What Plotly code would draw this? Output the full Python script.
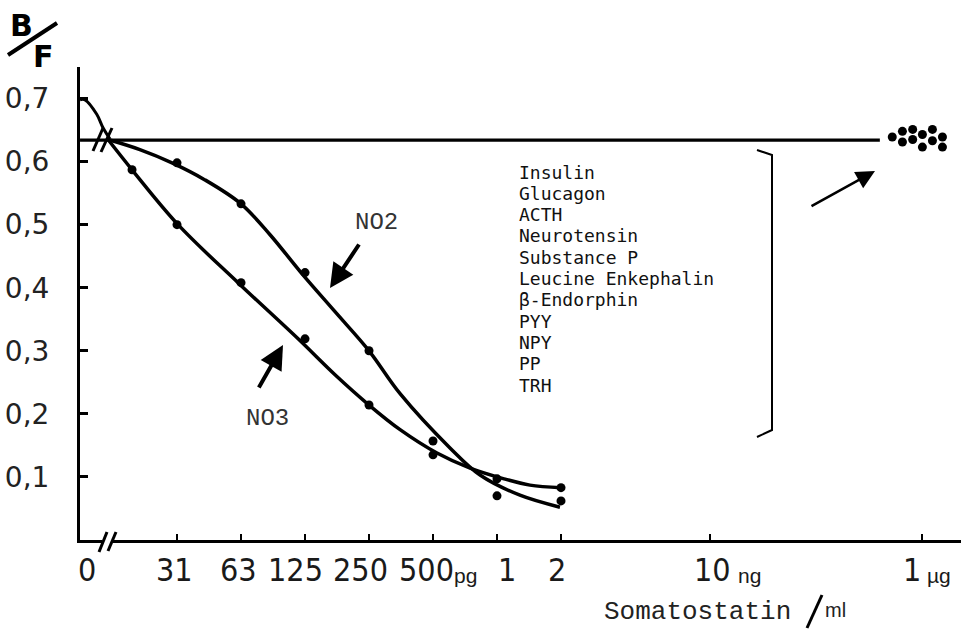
import math
import plotly.graph_objects as go

# ---------------- data ----------------
# somatostatin dose in pg/ml, B/F ratio
no2_dose = [31.25, 62.5, 125, 250, 500, 1000, 2000]
no2_bf = [0.598, 0.533, 0.424, 0.300, 0.157, 0.070, 0.062]

no3_dose = [19.2, 31.25, 62.5, 125, 250, 500, 1000, 2000]
no3_bf = [0.587, 0.500, 0.408, 0.319, 0.214, 0.135, 0.097, 0.083]

# hand-drawn fitted curves
no2_fit_dose = [14.8, 20.9, 29.6, 42.3, 62.5, 85.6, 119.7, 173, 250, 350, 601, 832, 1282, 1977]
no2_fit_bf = [0.635, 0.619, 0.598, 0.571, 0.533, 0.484, 0.424, 0.362, 0.300, 0.232, 0.146, 0.103, 0.071, 0.052]
no3_fit_dose = [14.8, 19.2, 31.6, 60.5, 116, 173, 250, 350, 522, 747, 1079, 1429, 2000]
no3_fit_bf = [0.635, 0.587, 0.500, 0.408, 0.319, 0.262, 0.214, 0.175, 0.138, 0.114, 0.097, 0.087, 0.083]

# zero-dose segment (plotted at the broken start of the axis)
zero_dose_pos = [10.93, 11.53, 13.1, 14.0, 15.1]
zero_dose_bf = [0.698, 0.698, 0.675, 0.654, 0.636]

# baseline B/F (no displacement)
baseline_dose = [10.93, 63200]
baseline_bf = [0.634, 0.634]

# other peptides at 1 ug/ml (plotted at broken-axis position)
peptides = ["Insulin", "Glucagon", "ACTH", "Neurotensin", "Substance P",
            "Leucine Enkephalin", "\u03b2-Endorphin", "PYY", "NPY", "PP", "TRH"]
cluster_dose = [72300, 80700, 80700, 90200, 90200, 100200, 100200, 111700, 111700, 124500, 124500]
cluster_bf = [0.639, 0.648, 0.631, 0.651, 0.635, 0.643, 0.623, 0.651, 0.633, 0.639, 0.623]

# axis ticks
x_tick_pos = [31.25, 62.5, 125, 250, 500, 1000, 2000, 10000, 100000]
x_label_pos = [10.93, 31.25, 62.5, 125, 250, 500, 1000, 2000, 10000, 100000]
x_label_num = ["0", "31", "63", "125", "250", "500", "1", "2", "10", "1"]
x_label_unit = ["", "", "", "", "", "pg", "", "", "ng", "\u00b5g"]
y_tick_vals = [0.1, 0.2, 0.3, 0.4, 0.5, 0.6, 0.7]
y_tick_text = ["0,1", "0,2", "0,3", "0,4", "0,5", "0,6", "0,7"]

# ---------------- layout helpers ----------------
W, H = 961, 629
ML, MR, MT, MB = 80, 0, 67, 89
PW, PH = W - ML - MR, H - MT - MB
XLOG0, XLOG1 = 1.0385, 1.0385 + PW / 212.6


def P(px, py):
    return (px - ML) / PW, (H - MB - py) / PH


fig = go.Figure()
LW = 3.5
fig.add_trace(go.Scatter(x=baseline_dose, y=baseline_bf, mode="lines",
                         line=dict(color="black", width=3.2), hoverinfo="skip"))
fig.add_trace(go.Scatter(x=zero_dose_pos, y=zero_dose_bf, mode="lines",
                         line=dict(color="black", width=3, shape="spline"), hoverinfo="skip"))
fig.add_trace(go.Scatter(x=no2_fit_dose, y=no2_fit_bf, mode="lines",
                         line=dict(color="black", width=LW, shape="spline", smoothing=1.0)))
fig.add_trace(go.Scatter(x=no3_fit_dose, y=no3_fit_bf, mode="lines",
                         line=dict(color="black", width=LW, shape="spline", smoothing=1.0)))
fig.add_trace(go.Scatter(x=no2_dose, y=no2_bf, mode="markers",
                         marker=dict(color="black", size=9)))
fig.add_trace(go.Scatter(x=no3_dose, y=no3_bf, mode="markers",
                         marker=dict(color="black", size=9)))
fig.add_trace(go.Scatter(x=cluster_dose, y=cluster_bf, mode="markers",
                         marker=dict(color="black", size=9)))

shapes = []


def seg(p0, p1, width=3, color="black"):
    x0, y0 = P(*p0)
    x1, y1 = P(*p1)
    shapes.append(dict(type="line", xref="paper", yref="paper", x0=x0, y0=y0, x1=x1, y1=y1,
                       line=dict(color=color, width=width), layer="above"))


# axis break on x axis
seg((102, 541), (113, 541), width=7, color="white")
seg((99, 552), (107, 532), width=3)
seg((108, 551), (116, 532), width=3)
# break marks on baseline
seg((93, 151), (103, 128), width=3)
seg((101, 152), (112, 128), width=3)
# B/F slash
seg((8, 55), (57, 23), width=4)
# Somatostatin / ml slash
seg((807, 628), (822, 595), width=3)
# bracket
pts = [P(757, 150), P(772, 155), P(772, 430), P(757, 437)]
path = "M {} {} L {} {} L {} {} L {} {}".format(*[v for p in pts for v in p])
shapes.append(dict(type="path", xref="paper", yref="paper", path=path,
                   line=dict(color="black", width=2)))

annotations = []


def text(px, py, s, size, family, xanchor="center", color="#1a1a1a", yanchor="middle"):
    x, y = P(px, py)
    annotations.append(dict(x=x, y=y, xref="paper", yref="paper", text=s, showarrow=False,
                            xanchor=xanchor, yanchor=yanchor,
                            font=dict(size=size, family=family, color=color)))


def arrow(head, tail, width=4, size=1.2):
    x, y = P(*head)
    annotations.append(dict(x=x, y=y, xref="paper", yref="paper", text="", showarrow=True,
                            ax=tail[0] - head[0], ay=tail[1] - head[1],
                            arrowhead=2, arrowsize=size, arrowwidth=width, arrowcolor="black"))


NARROW = "Liberation Sans Narrow, DejaVu Sans Condensed, Arial Narrow, sans-serif"
MONO = "Liberation Mono, Courier New, monospace"

# B / F
text(21, 25, "<b>B</b>", 30, "DejaVu Sans", color="black")
text(43, 57, "<b>F</b>", 30, "DejaVu Sans", color="black")

# curve labels and arrows
text(376, 223, "NO2", 24, MONO, color="#333")
text(267, 418, "NO3", 24, MONO, color="#333")
arrow((330, 288), (360, 243))
arrow((283, 345), (258, 389))
arrow((875, 171), (810, 207), width=2.5, size=1.5)

# peptide list
for i, name in enumerate(peptides):
    text(517, 172 + i * 21.3, name, 18, "DejaVu Sans Mono", xanchor="left", color="#111")

# x labels
num_centers = [87, 174, 238, 295, 360, 426, 507, 557, 712, 912]
unit_left = [None, None, None, None, None, 452, None, None, 736, 925]
for pos, num, unit, cx, ul in zip(x_label_pos, x_label_num, x_label_unit, num_centers, unit_left):
    text(cx, 570, num, 32, NARROW, color="#1a1a1a")
    if unit:
        text(ul, 575, unit, 21, "Liberation Sans, sans-serif", xanchor="left", color="#1a1a1a")

# axis title
text(602, 612, "Somatostatin", 26, MONO, xanchor="left", color="#222")
text(823, 610, "ml", 20, "Liberation Sans, sans-serif", xanchor="left", color="#222")

fig.update_layout(
    width=W, height=H,
    margin=dict(l=ML, r=MR, t=MT, b=MB),
    paper_bgcolor="white", plot_bgcolor="white",
    showlegend=False,
    shapes=shapes, annotations=annotations,
    xaxis=dict(type="log", range=[XLOG0, XLOG1], tickvals=x_tick_pos, showticklabels=False,
               ticks="inside", ticklen=6, tickwidth=2, tickcolor="black",
               showline=True, linewidth=3, linecolor="black", showgrid=False, zeroline=False),
    yaxis=dict(range=[0, 0.75], tickvals=y_tick_vals, ticktext=y_tick_text,
               ticks="inside", ticklen=8, tickwidth=3, tickcolor="black",
               tickfont=dict(size=28, family="DejaVu Sans", color="#222"),
               ticklabelstandoff=22,
               showline=True, linewidth=3, linecolor="black", showgrid=False, zeroline=False),
)

fig.write_html("out.html")
